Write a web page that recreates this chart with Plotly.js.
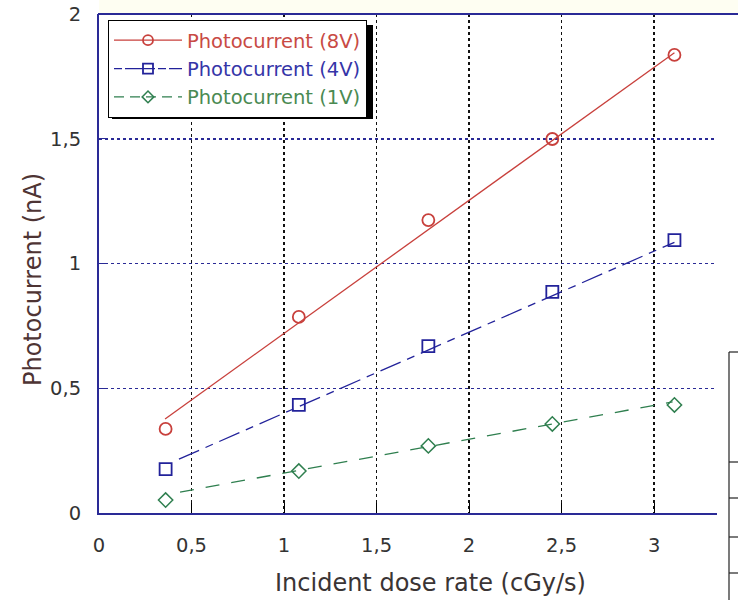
<!DOCTYPE html>
<html>
<head>
<meta charset="utf-8">
<script src="https://cdn.plot.ly/plotly-3.0.1.min.js"></script>
<style>html,body{margin:0;padding:0;background:#fff;}#chart{width:738px;height:600px;}</style>
</head>
<body>
<div id="chart"></div>
<script>
const doseRate = [0.36, 1.08, 1.78, 2.45, 3.11];
const current8V = [0.337, 0.786, 1.174, 1.499, 1.836];
const current4V = [0.176, 0.433, 0.669, 0.886, 1.094];
const current1V = [0.052, 0.168, 0.269, 0.357, 0.433];

// Fitted lines (end points)
const fit8V_x = [0.357, 3.11];
const fit8V_y = [0.377, 1.845];
const fit4V_x = [0.432, 3.11];
const fit4V_y = [0.216, 1.085];
const fit1V_x = [0.438, 3.10];
const fit1V_y = [0.084, 0.445];

const seriesNames = ['Photocurrent (8V)', 'Photocurrent (4V)', 'Photocurrent (1V)'];
const xTickVals = [0, 0.5, 1, 1.5, 2, 2.5, 3];
const yTickVals = [0, 0.5, 1, 1.5, 2];
const xTitle = 'Incident dose rate (cGy/s)';
const yTitle = 'Photocurrent (nA)';

const RED = '#c8403c', BLUE = '#22229a', GREEN = '#2f7f4f';
const RED_T = '#c84a44', BLUE_T = '#3535a8', GREEN_T = '#4a8a52';
const NAVY = '#2a2a96';
const FONT = 'DejaVu Sans, Liberation Sans, Arial, sans-serif';

const dash4 = '22px,7px,8px,7px';
const dash1 = '14px,12px';

const traces = [
  {x: fit8V_x, y: fit8V_y, mode: 'lines', line: {color: RED, width: 1.3}, showlegend: false, hoverinfo: 'skip'},
  {x: fit4V_x, y: fit4V_y, mode: 'lines', line: {color: BLUE, width: 1.3, dash: dash4}, showlegend: false, hoverinfo: 'skip'},
  {x: fit1V_x, y: fit1V_y, mode: 'lines', line: {color: GREEN, width: 1.3, dash: dash1}, showlegend: false, hoverinfo: 'skip'},
  {x: doseRate, y: current8V, mode: 'markers', showlegend: false,
   marker: {symbol: 'circle-open', size: 12, color: RED, line: {width: 1.8, color: RED}}},
  {x: doseRate, y: current4V, mode: 'markers', showlegend: false,
   marker: {symbol: 'square-open', size: 12, color: BLUE, line: {width: 1.8, color: BLUE}}},
  {x: doseRate, y: current1V, mode: 'markers', showlegend: false,
   marker: {symbol: 'diamond-open', size: 11, color: GREEN, line: {width: 1.5, color: GREEN}}},
  // legend entries
  {x: [null], y: [null], mode: 'lines+markers', name: '<span style="color:' + RED_T + '">' + seriesNames[0] + '</span>',
   line: {color: RED, width: 1.3}, marker: {symbol: 'circle-open', size: 10, color: RED, line: {width: 1.8, color: RED}}},
  {x: [null], y: [null], mode: 'lines+markers', name: '<span style="color:' + BLUE_T + '">' + seriesNames[1] + '</span>',
   line: {color: BLUE, width: 1.3, dash: '8px,3px,30px,3px'}, marker: {symbol: 'square-open', size: 10, color: BLUE, line: {width: 1.8, color: BLUE}}},
  {x: [null], y: [null], mode: 'lines+markers', name: '<span style="color:' + GREEN_T + '">' + seriesNames[2] + '</span>',
   line: {color: GREEN, width: 1.3, dash: '10px,6px'}, marker: {symbol: 'diamond-open', size: 9, color: GREEN, line: {width: 1.5, color: GREEN}}}
];

// pixel helpers for paper-referenced decorations
const PL = 99, PR = 717, PT = 14, PB = 513;
const px = v => (v - PL) / (PR - PL);
const py = v => (PB - v) / (PB - PT);

const shapes = [
  {type: 'rect', xref: 'paper', yref: 'paper', x0: px(99), x1: px(738), y0: py(0), y1: py(13), fillcolor: '#fefef2', line: {width: 0}, layer: 'below'},
  {type: 'line', xref: 'paper', yref: 'paper', x0: px(98), x1: px(738), y0: 1, y1: 1, line: {color: NAVY, width: 2}},
  // legend drop shadow
  {type: 'rect', xref: 'paper', yref: 'paper', x0: px(112), x1: px(373), y0: py(119), y1: py(25), fillcolor: '#000', line: {width: 0}},
  // table fragment at the right
  {type: 'line', xref: 'paper', yref: 'paper', x0: px(729), x1: px(729), y0: py(352), y1: py(600), line: {color: '#222', width: 1.2}},
  {type: 'line', xref: 'paper', yref: 'paper', x0: px(729), x1: px(738), y0: py(352), y1: py(352), line: {color: '#222', width: 1.2}},
  {type: 'line', xref: 'paper', yref: 'paper', x0: px(729), x1: px(738), y0: py(462), y1: py(462), line: {color: '#222', width: 1.2}},
  {type: 'line', xref: 'paper', yref: 'paper', x0: px(729), x1: px(738), y0: py(498), y1: py(498), line: {color: '#222', width: 1.2}},
  {type: 'line', xref: 'paper', yref: 'paper', x0: px(729), x1: px(738), y0: py(537), y1: py(537), line: {color: '#222', width: 1.2}},
  {type: 'line', xref: 'paper', yref: 'paper', x0: px(729), x1: px(738), y0: py(573), y1: py(573), line: {color: '#222', width: 1.2}}
];

const annotations = [
  {text: xTitle, xref: 'paper', yref: 'paper', x: px(431), y: py(583), xanchor: 'center', yanchor: 'middle',
   showarrow: false, font: {family: FONT, size: 24, color: '#3a3434'}},
  {text: yTitle, xref: 'paper', yref: 'paper', x: px(33), y: py(280), xanchor: 'center', yanchor: 'middle',
   textangle: -90, showarrow: false, font: {family: FONT, size: 24, color: '#4e3434'}}
];

const layout = {
  width: 738, height: 600,
  margin: {l: PL, r: 738 - PR, t: PT, b: 600 - PB, pad: 0},
  paper_bgcolor: '#ffffff', plot_bgcolor: '#ffffff',
  separators: ', ',
  font: {family: FONT, size: 19, color: '#333'},
  showlegend: true,
  legend: {x: px(108), y: py(20), xanchor: 'left', yanchor: 'top', bgcolor: '#ffffff',
           bordercolor: '#000', borderwidth: 1, font: {family: FONT, size: 19.5}, itemwidth: 68,
           tracegroupgap: 0},
  xaxis: {
    range: [0, 3.34], tickvals: xTickVals, ticks: 'inside', ticklen: 10, tickcolor: '#000', tickwidth: 1,
    showline: true, linecolor: NAVY, linewidth: 2, zeroline: false,
    showgrid: true, gridcolor: '#111', griddash: 'dot', gridwidth: 1.6,
    tickfont: {family: FONT, size: 19.5, color: '#333'}, ticklabelstandoff: 14,
    fixedrange: true
  },
  yaxis: {
    range: [0, 2], tickvals: yTickVals, ticks: 'inside', ticklen: 9, tickcolor: NAVY, tickwidth: 1.3,
    showline: true, linecolor: NAVY, linewidth: 2, zeroline: false,
    showgrid: true, gridcolor: NAVY, griddash: 'dot', gridwidth: 1.5,
    tickfont: {family: FONT, size: 19.5, color: '#333'}, ticklabelstandoff: 12,
    fixedrange: true
  },
  shapes: shapes,
  annotations: annotations
};

Plotly.newPlot('chart', traces, layout, {displayModeBar: false, staticPlot: true});
</script>
</body>
</html>
